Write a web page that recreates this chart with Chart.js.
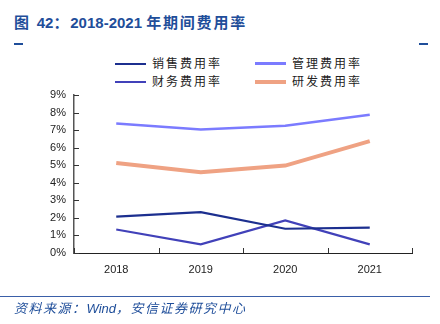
<!DOCTYPE html>
<html>
<head>
<meta charset="utf-8">
<script src="https://cdn.jsdelivr.net/npm/chart.js@4"></script>
<style>
  body { margin: 0; background: #fff; }
  #wrap { position: relative; width: 440px; height: 324px; overflow: hidden; }
  #title { position: absolute; left: 14px; top: 11px; font: bold 15px "Liberation Sans", "Noto Sans CJK SC", sans-serif; color: #1f4e9a; white-space: nowrap; }
  #title .cjk { letter-spacing: 1.8px; }
  .dash { position: absolute; top: 43px; width: 9px; height: 2px; background: #1f4e9a; }
  #legend { position: absolute; left: 115px; top: 54px; width: 300px; }
  .item { position: absolute; font: 12px "Noto Sans CJK SC", sans-serif; color: #222; letter-spacing: 2px; white-space: nowrap; }
  .item i { display: inline-block; width: 31px; vertical-align: middle; margin-right: 6px; position: relative; top: -1px; }
  #srcline { position: absolute; left: 0; top: 296px; width: 430px; height: 1px; background: #3a5fa8; }
  #src { position: absolute; left: 14px; top: 298px; font: italic 13px "Liberation Sans", "Noto Sans CJK SC", sans-serif; color: #1f4e9a; white-space: nowrap; }
  #src .cjk { letter-spacing: 1.5px; }
  canvas { position: absolute; left: 0; top: 0; }
</style>
</head>
<body>
<div id="wrap">
  <div id="title"><span class="cjk">图 </span>42<span class="cjk">：</span>2018-2021 <span class="cjk">年期间费用率</span></div>
  <div class="dash" style="left:14px"></div>
  <div class="dash" style="left:419px"></div>
  <div id="legend"></div>
  <canvas id="c" width="440" height="324"></canvas>
  <div id="srcline"></div>
  <div id="src"><span class="cjk">资料来源：</span>Wind<span class="cjk">，安信证券研究中心</span></div>
</div>
<script>
const years = ["2018", "2019", "2020", "2021"];
const sales = [2.07, 2.33, 1.38, 1.44];
const admin = [7.38, 7.04, 7.25, 7.88];
const finance = [1.34, 0.49, 1.86, 0.49];
const rnd = [5.13, 4.6, 4.98, 6.37];
const yTicks = [0, 1, 2, 3, 4, 5, 6, 7, 8, 9];

const series = [
    { label: "销售费用率", data: sales, color: "#1c2f8f", width: 2.2 },
    { label: "管理费用率", data: admin, color: "#7b7bff", width: 2.5 },
    { label: "财务费用率", data: finance, color: "#4141b9", width: 2.2 },
    { label: "研发费用率", data: rnd, color: "#efa283", width: 4 },
];

// legend in two columns
const legend = document.getElementById("legend");
series.forEach((s, i) => {
    const el = document.createElement("div");
    el.className = "item";
    el.style.left = (i % 2) * 140 + "px";
    el.style.top = Math.floor(i / 2) * 18 + "px";
    el.innerHTML = `<i style="height:${Math.round(s.width)}px;background:${s.color}"></i>${s.label}`;
    legend.appendChild(el);
});

// ticks drawn inward, like the original
const innerTicks = {
    id: "innerTicks",
    afterDraw(chart) {
        const ctx = chart.ctx;
        const area = chart.chartArea;
        const x = chart.scales.x;
        const y = chart.scales.y;
        ctx.save();
        ctx.strokeStyle = "#333";
        ctx.lineWidth = 1;
        ctx.beginPath();
        for (let v of yTicks) {
            const py = Math.round(y.getPixelForValue(v)) + 0.5;
            ctx.moveTo(area.left, py);
            ctx.lineTo(area.left + 5, py);
        }
        const half = (x.getPixelForValue(1) - x.getPixelForValue(0)) / 2;
        for (let i = 0; i <= years.length; i++) {
            const px = Math.round(x.getPixelForValue(i) - half) + 0.5;
            ctx.moveTo(px, area.bottom);
            ctx.lineTo(px, area.bottom - 5);
        }
        ctx.stroke();
        ctx.restore();
    },
};

new Chart(document.getElementById("c"), {
    type: "line",
    data: {
        labels: years,
        datasets: series.map((s) => ({
            label: s.label,
            data: s.data,
            borderColor: s.color,
            backgroundColor: s.color,
            borderWidth: s.width,
            pointRadius: 0,
            tension: 0,
        })),
    },
    options: {
        responsive: false,
        animation: false,
        layout: { padding: { left: 0, top: 95, right: 28, bottom: 41 } },
        plugins: { legend: { display: false }, tooltip: { enabled: false } },
        scales: {
            x: {
                offset: true,
                grid: { display: true, drawOnChartArea: false, drawTicks: false, offset: true },
                border: { display: true, color: "#222", width: 1 },
                ticks: { color: "#222", font: { family: "Liberation Sans", size: 11 }, padding: 10 },
                afterFit(scale) { scale.height = 30; },
            },
            y: {
                min: 0,
                max: 9,
                grid: { drawOnChartArea: false, drawTicks: false },
                border: { display: true, color: "#555", width: 1.5 },
                ticks: {
                    stepSize: 1,
                    color: "#222",
                    font: { family: "Liberation Sans", size: 11 },
                    padding: 8,
                    callback: (v) => v + "%",
                },
                afterFit(scale) { scale.width = 74; },
            },
        },
    },
    plugins: [innerTicks],
});
</script>
</body>
</html>
